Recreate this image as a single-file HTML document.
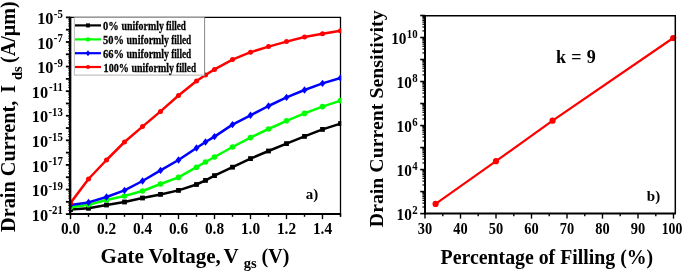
<!DOCTYPE html>
<html><head><meta charset="utf-8"><title>figure</title>
<style>html,body{margin:0;padding:0;background:#fff}body{width:685px;height:273px;overflow:hidden}</style></head>
<body>
<svg width="685" height="273" viewBox="0 0 685 273" style="display:block">
<rect width="685" height="273" fill="#fff"/>
<clipPath id="cl"><rect x="70.5" y="17.4" width="270.75" height="196.7"/></clipPath>
<line x1="70.5" x2="341.1" y1="17.4" y2="17.4" stroke="#000" stroke-width="1.3"/>
<line x1="340.5" x2="340.5" y1="17.4" y2="216.6" stroke="#000" stroke-width="1.3"/>
<g clip-path="url(#cl)">
<polyline points="70.5,209.6 88.5,208.3 106.5,205.0 124.5,202.0 142.5,198.0 160.5,194.4 178.5,190.4 196.5,184.5 205.5,180.4 214.5,175.6 232.5,167.2 250.5,158.6 268.5,151.0 286.5,143.6 304.5,136.4 322.5,129.4 340.5,123.6" fill="none" stroke="#000" stroke-width="2.5" stroke-linejoin="round"/>
<rect x="68.1" y="207.2" width="4.8" height="4.8" fill="#000"/>
<rect x="86.1" y="205.9" width="4.8" height="4.8" fill="#000"/>
<rect x="104.1" y="202.6" width="4.8" height="4.8" fill="#000"/>
<rect x="122.1" y="199.6" width="4.8" height="4.8" fill="#000"/>
<rect x="140.1" y="195.6" width="4.8" height="4.8" fill="#000"/>
<rect x="158.1" y="192.0" width="4.8" height="4.8" fill="#000"/>
<rect x="176.1" y="188.0" width="4.8" height="4.8" fill="#000"/>
<rect x="194.1" y="182.1" width="4.8" height="4.8" fill="#000"/>
<rect x="203.1" y="178.0" width="4.8" height="4.8" fill="#000"/>
<rect x="212.1" y="173.2" width="4.8" height="4.8" fill="#000"/>
<rect x="230.1" y="164.8" width="4.8" height="4.8" fill="#000"/>
<rect x="248.1" y="156.2" width="4.8" height="4.8" fill="#000"/>
<rect x="266.1" y="148.6" width="4.8" height="4.8" fill="#000"/>
<rect x="284.1" y="141.2" width="4.8" height="4.8" fill="#000"/>
<rect x="302.1" y="134.0" width="4.8" height="4.8" fill="#000"/>
<rect x="320.1" y="127.0" width="4.8" height="4.8" fill="#000"/>
<rect x="338.1" y="121.2" width="4.8" height="4.8" fill="#000"/>
<polyline points="70.5,207.3 88.5,204.7 106.5,200.0 124.5,196.0 142.5,191.0 160.5,184.0 178.5,177.4 196.5,167.2 205.5,162.0 214.5,157.0 232.5,147.0 250.5,137.6 268.5,129.0 286.5,120.8 304.5,113.4 322.5,106.6 340.5,100.6" fill="none" stroke="#00ff00" stroke-width="2.5" stroke-linejoin="round"/>
<circle cx="70.5" cy="207.3" r="2.8" fill="#00ff00"/>
<circle cx="88.5" cy="204.7" r="2.8" fill="#00ff00"/>
<circle cx="106.5" cy="200.0" r="2.8" fill="#00ff00"/>
<circle cx="124.5" cy="196.0" r="2.8" fill="#00ff00"/>
<circle cx="142.5" cy="191.0" r="2.8" fill="#00ff00"/>
<circle cx="160.5" cy="184.0" r="2.8" fill="#00ff00"/>
<circle cx="178.5" cy="177.4" r="2.8" fill="#00ff00"/>
<circle cx="196.5" cy="167.2" r="2.8" fill="#00ff00"/>
<circle cx="205.5" cy="162.0" r="2.8" fill="#00ff00"/>
<circle cx="214.5" cy="157.0" r="2.8" fill="#00ff00"/>
<circle cx="232.5" cy="147.0" r="2.8" fill="#00ff00"/>
<circle cx="250.5" cy="137.6" r="2.8" fill="#00ff00"/>
<circle cx="268.5" cy="129.0" r="2.8" fill="#00ff00"/>
<circle cx="286.5" cy="120.8" r="2.8" fill="#00ff00"/>
<circle cx="304.5" cy="113.4" r="2.8" fill="#00ff00"/>
<circle cx="322.5" cy="106.6" r="2.8" fill="#00ff00"/>
<circle cx="340.5" cy="100.6" r="2.8" fill="#00ff00"/>
<polyline points="70.5,205.0 88.5,202.4 106.5,197.0 124.5,190.4 142.5,181.0 160.5,170.4 178.5,160.0 196.5,148.0 205.5,142.0 214.5,136.6 232.5,124.6 250.5,115.3 268.5,106.0 286.5,97.4 304.5,90.0 322.5,83.4 340.5,78.0" fill="none" stroke="#0000ff" stroke-width="2.5" stroke-linejoin="round"/>
<polygon points="67.6,205.0 70.5,201.3 73.4,205.0 70.5,208.7" fill="#0000ff"/>
<polygon points="85.6,202.4 88.5,198.7 91.4,202.4 88.5,206.1" fill="#0000ff"/>
<polygon points="103.6,197.0 106.5,193.3 109.4,197.0 106.5,200.7" fill="#0000ff"/>
<polygon points="121.6,190.4 124.5,186.7 127.4,190.4 124.5,194.1" fill="#0000ff"/>
<polygon points="139.6,181.0 142.5,177.3 145.4,181.0 142.5,184.7" fill="#0000ff"/>
<polygon points="157.6,170.4 160.5,166.7 163.4,170.4 160.5,174.1" fill="#0000ff"/>
<polygon points="175.6,160.0 178.5,156.3 181.4,160.0 178.5,163.7" fill="#0000ff"/>
<polygon points="193.6,148.0 196.5,144.3 199.4,148.0 196.5,151.7" fill="#0000ff"/>
<polygon points="202.6,142.0 205.5,138.3 208.4,142.0 205.5,145.7" fill="#0000ff"/>
<polygon points="211.6,136.6 214.5,132.9 217.4,136.6 214.5,140.3" fill="#0000ff"/>
<polygon points="229.6,124.6 232.5,120.9 235.4,124.6 232.5,128.3" fill="#0000ff"/>
<polygon points="247.6,115.3 250.5,111.6 253.4,115.3 250.5,119.0" fill="#0000ff"/>
<polygon points="265.6,106.0 268.5,102.3 271.4,106.0 268.5,109.7" fill="#0000ff"/>
<polygon points="283.6,97.4 286.5,93.7 289.4,97.4 286.5,101.1" fill="#0000ff"/>
<polygon points="301.6,90.0 304.5,86.3 307.4,90.0 304.5,93.7" fill="#0000ff"/>
<polygon points="319.6,83.4 322.5,79.7 325.4,83.4 322.5,87.1" fill="#0000ff"/>
<polygon points="337.6,78.0 340.5,74.3 343.4,78.0 340.5,81.7" fill="#0000ff"/>
<polyline points="70.5,203.0 88.5,179.0 106.5,160.0 124.5,142.0 142.5,126.6 160.5,111.4 178.5,95.5 196.5,81.0 205.5,75.0 214.5,69.4 232.5,59.6 250.5,52.2 268.5,46.6 286.5,41.6 304.5,37.0 322.5,33.8 340.5,30.8" fill="none" stroke="#ff0000" stroke-width="2.5" stroke-linejoin="round"/>
<circle cx="70.5" cy="203.0" r="2.5" fill="#ff0000"/>
<circle cx="88.5" cy="179.0" r="2.5" fill="#ff0000"/>
<circle cx="106.5" cy="160.0" r="2.5" fill="#ff0000"/>
<circle cx="124.5" cy="142.0" r="2.5" fill="#ff0000"/>
<circle cx="142.5" cy="126.6" r="2.5" fill="#ff0000"/>
<circle cx="160.5" cy="111.4" r="2.5" fill="#ff0000"/>
<circle cx="178.5" cy="95.5" r="2.5" fill="#ff0000"/>
<circle cx="196.5" cy="81.0" r="2.5" fill="#ff0000"/>
<circle cx="205.5" cy="75.0" r="2.5" fill="#ff0000"/>
<circle cx="214.5" cy="69.4" r="2.5" fill="#ff0000"/>
<circle cx="232.5" cy="59.6" r="2.5" fill="#ff0000"/>
<circle cx="250.5" cy="52.2" r="2.5" fill="#ff0000"/>
<circle cx="268.5" cy="46.6" r="2.5" fill="#ff0000"/>
<circle cx="286.5" cy="41.6" r="2.5" fill="#ff0000"/>
<circle cx="304.5" cy="37.0" r="2.5" fill="#ff0000"/>
<circle cx="322.5" cy="33.8" r="2.5" fill="#ff0000"/>
<circle cx="340.5" cy="30.8" r="2.5" fill="#ff0000"/>
</g>
<rect x="74.4" y="17.4" width="130.2" height="57.699999999999996" fill="#fff"/>
<path d="M74.4 17.4 V75.1 H204.6" fill="none" stroke="#c4c4c4" stroke-width="1.1"/>
<line x1="204.6" x2="204.6" y1="17.4" y2="75.6" stroke="#7a7a7a" stroke-width="0.9"/>
<line x1="75" x2="101" y1="25.4" y2="25.4" stroke="#000" stroke-width="2.2"/>
<rect x="86.0" y="23.4" width="4" height="4" fill="#000"/>
<text x="103.0" y="29.9" font-size="13.5" textLength="15.7" lengthAdjust="spacingAndGlyphs" stroke="#000" stroke-width="0.3" font-family="Liberation Serif, serif" font-weight="bold">0%</text>
<text x="121.4" y="29.9" font-size="13.5" textLength="42.5" lengthAdjust="spacingAndGlyphs" stroke="#000" stroke-width="0.3" font-family="Liberation Serif, serif" font-weight="bold">uniformly</text>
<text x="166.0" y="29.9" font-size="13.5" textLength="20.0" lengthAdjust="spacingAndGlyphs" stroke="#000" stroke-width="0.3" font-family="Liberation Serif, serif" font-weight="bold">filled</text>
<line x1="75" x2="101" y1="39.4" y2="39.4" stroke="#00ff00" stroke-width="2.2"/>
<circle cx="88.0" cy="39.4" r="2.2" fill="#00ff00"/>
<text x="103.0" y="43.9" font-size="13.5" textLength="20.9" lengthAdjust="spacingAndGlyphs" stroke="#000" stroke-width="0.3" font-family="Liberation Serif, serif" font-weight="bold">50%</text>
<text x="126.6" y="43.9" font-size="13.5" textLength="42.5" lengthAdjust="spacingAndGlyphs" stroke="#000" stroke-width="0.3" font-family="Liberation Serif, serif" font-weight="bold">uniformly</text>
<text x="171.2" y="43.9" font-size="13.5" textLength="20.0" lengthAdjust="spacingAndGlyphs" stroke="#000" stroke-width="0.3" font-family="Liberation Serif, serif" font-weight="bold">filled</text>
<line x1="75" x2="101" y1="53.2" y2="53.2" stroke="#0000ff" stroke-width="2.2"/>
<polygon points="85.8,53.2 88.0,50.2 90.2,53.2 88.0,56.2" fill="#0000ff"/>
<text x="103.0" y="57.7" font-size="13.5" textLength="20.9" lengthAdjust="spacingAndGlyphs" stroke="#000" stroke-width="0.3" font-family="Liberation Serif, serif" font-weight="bold">66%</text>
<text x="126.6" y="57.7" font-size="13.5" textLength="42.5" lengthAdjust="spacingAndGlyphs" stroke="#000" stroke-width="0.3" font-family="Liberation Serif, serif" font-weight="bold">uniformly</text>
<text x="171.2" y="57.7" font-size="13.5" textLength="20.0" lengthAdjust="spacingAndGlyphs" stroke="#000" stroke-width="0.3" font-family="Liberation Serif, serif" font-weight="bold">filled</text>
<line x1="75" x2="101" y1="67" y2="67" stroke="#ff0000" stroke-width="2.2"/>
<circle cx="88.0" cy="67.0" r="2" fill="#ff0000"/>
<text x="103.6" y="71.5" font-size="13.5" textLength="25.2" lengthAdjust="spacingAndGlyphs" stroke="#000" stroke-width="0.3" font-family="Liberation Serif, serif" font-weight="bold">100%</text>
<text x="131.5" y="71.5" font-size="13.5" textLength="42.5" lengthAdjust="spacingAndGlyphs" stroke="#000" stroke-width="0.3" font-family="Liberation Serif, serif" font-weight="bold">uniformly</text>
<text x="176.1" y="71.5" font-size="13.5" textLength="20.0" lengthAdjust="spacingAndGlyphs" stroke="#000" stroke-width="0.3" font-family="Liberation Serif, serif" font-weight="bold">filled</text>
<line x1="70.15" x2="70.15" y1="16.7" y2="215.1" stroke="#000" stroke-width="2.4"/>
<line x1="69.5" x2="341.1" y1="214.1" y2="214.1" stroke="#000" stroke-width="2"/>
<line x1="65.9" x2="70.0" y1="17.40" y2="17.40" stroke="#000" stroke-width="1.8"/>
<text transform="translate(62.8,17.6) scale(0.9,1)" text-anchor="end" font-size="12" font-family="Liberation Serif, serif" font-weight="bold">-5</text>
<text transform="translate(53.5,24.0) scale(0.96,1)" text-anchor="end" font-size="17" font-family="Liberation Serif, serif" font-weight="bold">10</text>
<line x1="68.1" x2="70.0" y1="25.99" y2="25.99" stroke="#000" stroke-width="0.8"/>
<line x1="68.1" x2="70.0" y1="23.83" y2="23.83" stroke="#000" stroke-width="0.8"/>
<line x1="68.1" x2="70.0" y1="21.10" y2="21.10" stroke="#000" stroke-width="0.8"/>
<line x1="68.1" x2="70.0" y1="19.30" y2="19.30" stroke="#000" stroke-width="0.8"/>
<line x1="65.9" x2="70.0" y1="29.69" y2="29.69" stroke="#000" stroke-width="1.8"/>
<line x1="68.1" x2="70.0" y1="38.29" y2="38.29" stroke="#000" stroke-width="0.8"/>
<line x1="68.1" x2="70.0" y1="36.12" y2="36.12" stroke="#000" stroke-width="0.8"/>
<line x1="68.1" x2="70.0" y1="33.39" y2="33.39" stroke="#000" stroke-width="0.8"/>
<line x1="68.1" x2="70.0" y1="31.60" y2="31.60" stroke="#000" stroke-width="0.8"/>
<line x1="65.9" x2="70.0" y1="41.99" y2="41.99" stroke="#000" stroke-width="1.8"/>
<text transform="translate(62.8,42.2) scale(0.9,1)" text-anchor="end" font-size="12" font-family="Liberation Serif, serif" font-weight="bold">-7</text>
<text transform="translate(53.5,48.6) scale(0.96,1)" text-anchor="end" font-size="17" font-family="Liberation Serif, serif" font-weight="bold">10</text>
<line x1="68.1" x2="70.0" y1="50.58" y2="50.58" stroke="#000" stroke-width="0.8"/>
<line x1="68.1" x2="70.0" y1="48.42" y2="48.42" stroke="#000" stroke-width="0.8"/>
<line x1="68.1" x2="70.0" y1="45.69" y2="45.69" stroke="#000" stroke-width="0.8"/>
<line x1="68.1" x2="70.0" y1="43.89" y2="43.89" stroke="#000" stroke-width="0.8"/>
<line x1="65.9" x2="70.0" y1="54.28" y2="54.28" stroke="#000" stroke-width="1.8"/>
<line x1="68.1" x2="70.0" y1="62.87" y2="62.87" stroke="#000" stroke-width="0.8"/>
<line x1="68.1" x2="70.0" y1="60.71" y2="60.71" stroke="#000" stroke-width="0.8"/>
<line x1="68.1" x2="70.0" y1="57.98" y2="57.98" stroke="#000" stroke-width="0.8"/>
<line x1="68.1" x2="70.0" y1="56.19" y2="56.19" stroke="#000" stroke-width="0.8"/>
<line x1="65.9" x2="70.0" y1="66.57" y2="66.57" stroke="#000" stroke-width="1.8"/>
<text transform="translate(62.8,66.8) scale(0.9,1)" text-anchor="end" font-size="12" font-family="Liberation Serif, serif" font-weight="bold">-9</text>
<text transform="translate(53.5,73.2) scale(0.96,1)" text-anchor="end" font-size="17" font-family="Liberation Serif, serif" font-weight="bold">10</text>
<line x1="68.1" x2="70.0" y1="75.17" y2="75.17" stroke="#000" stroke-width="0.8"/>
<line x1="68.1" x2="70.0" y1="73.00" y2="73.00" stroke="#000" stroke-width="0.8"/>
<line x1="68.1" x2="70.0" y1="70.28" y2="70.28" stroke="#000" stroke-width="0.8"/>
<line x1="68.1" x2="70.0" y1="68.48" y2="68.48" stroke="#000" stroke-width="0.8"/>
<line x1="65.9" x2="70.0" y1="78.87" y2="78.87" stroke="#000" stroke-width="1.8"/>
<line x1="68.1" x2="70.0" y1="87.46" y2="87.46" stroke="#000" stroke-width="0.8"/>
<line x1="68.1" x2="70.0" y1="85.30" y2="85.30" stroke="#000" stroke-width="0.8"/>
<line x1="68.1" x2="70.0" y1="82.57" y2="82.57" stroke="#000" stroke-width="0.8"/>
<line x1="68.1" x2="70.0" y1="80.77" y2="80.77" stroke="#000" stroke-width="0.8"/>
<line x1="65.9" x2="70.0" y1="91.16" y2="91.16" stroke="#000" stroke-width="1.8"/>
<text transform="translate(62.8,91.4) scale(0.9,1)" text-anchor="end" font-size="12" font-family="Liberation Serif, serif" font-weight="bold">-11</text>
<text transform="translate(48.1,97.8) scale(0.96,1)" text-anchor="end" font-size="17" font-family="Liberation Serif, serif" font-weight="bold">10</text>
<line x1="68.1" x2="70.0" y1="99.76" y2="99.76" stroke="#000" stroke-width="0.8"/>
<line x1="68.1" x2="70.0" y1="97.59" y2="97.59" stroke="#000" stroke-width="0.8"/>
<line x1="68.1" x2="70.0" y1="94.86" y2="94.86" stroke="#000" stroke-width="0.8"/>
<line x1="68.1" x2="70.0" y1="93.07" y2="93.07" stroke="#000" stroke-width="0.8"/>
<line x1="65.9" x2="70.0" y1="103.46" y2="103.46" stroke="#000" stroke-width="1.8"/>
<line x1="68.1" x2="70.0" y1="112.05" y2="112.05" stroke="#000" stroke-width="0.8"/>
<line x1="68.1" x2="70.0" y1="109.88" y2="109.88" stroke="#000" stroke-width="0.8"/>
<line x1="68.1" x2="70.0" y1="107.16" y2="107.16" stroke="#000" stroke-width="0.8"/>
<line x1="68.1" x2="70.0" y1="105.36" y2="105.36" stroke="#000" stroke-width="0.8"/>
<line x1="65.9" x2="70.0" y1="115.75" y2="115.75" stroke="#000" stroke-width="1.8"/>
<text transform="translate(62.8,115.9) scale(0.9,1)" text-anchor="end" font-size="12" font-family="Liberation Serif, serif" font-weight="bold">-13</text>
<text transform="translate(48.1,122.3) scale(0.96,1)" text-anchor="end" font-size="17" font-family="Liberation Serif, serif" font-weight="bold">10</text>
<line x1="68.1" x2="70.0" y1="124.34" y2="124.34" stroke="#000" stroke-width="0.8"/>
<line x1="68.1" x2="70.0" y1="122.18" y2="122.18" stroke="#000" stroke-width="0.8"/>
<line x1="68.1" x2="70.0" y1="119.45" y2="119.45" stroke="#000" stroke-width="0.8"/>
<line x1="68.1" x2="70.0" y1="117.65" y2="117.65" stroke="#000" stroke-width="0.8"/>
<line x1="65.9" x2="70.0" y1="128.04" y2="128.04" stroke="#000" stroke-width="1.8"/>
<line x1="68.1" x2="70.0" y1="136.64" y2="136.64" stroke="#000" stroke-width="0.8"/>
<line x1="68.1" x2="70.0" y1="134.47" y2="134.47" stroke="#000" stroke-width="0.8"/>
<line x1="68.1" x2="70.0" y1="131.74" y2="131.74" stroke="#000" stroke-width="0.8"/>
<line x1="68.1" x2="70.0" y1="129.95" y2="129.95" stroke="#000" stroke-width="0.8"/>
<line x1="65.9" x2="70.0" y1="140.34" y2="140.34" stroke="#000" stroke-width="1.8"/>
<text transform="translate(62.8,140.5) scale(0.9,1)" text-anchor="end" font-size="12" font-family="Liberation Serif, serif" font-weight="bold">-15</text>
<text transform="translate(48.1,146.9) scale(0.96,1)" text-anchor="end" font-size="17" font-family="Liberation Serif, serif" font-weight="bold">10</text>
<line x1="68.1" x2="70.0" y1="148.93" y2="148.93" stroke="#000" stroke-width="0.8"/>
<line x1="68.1" x2="70.0" y1="146.77" y2="146.77" stroke="#000" stroke-width="0.8"/>
<line x1="68.1" x2="70.0" y1="144.04" y2="144.04" stroke="#000" stroke-width="0.8"/>
<line x1="68.1" x2="70.0" y1="142.24" y2="142.24" stroke="#000" stroke-width="0.8"/>
<line x1="65.9" x2="70.0" y1="152.63" y2="152.63" stroke="#000" stroke-width="1.8"/>
<line x1="68.1" x2="70.0" y1="161.22" y2="161.22" stroke="#000" stroke-width="0.8"/>
<line x1="68.1" x2="70.0" y1="159.06" y2="159.06" stroke="#000" stroke-width="0.8"/>
<line x1="68.1" x2="70.0" y1="156.33" y2="156.33" stroke="#000" stroke-width="0.8"/>
<line x1="68.1" x2="70.0" y1="154.54" y2="154.54" stroke="#000" stroke-width="0.8"/>
<line x1="65.9" x2="70.0" y1="164.92" y2="164.92" stroke="#000" stroke-width="1.8"/>
<text transform="translate(62.8,165.1) scale(0.9,1)" text-anchor="end" font-size="12" font-family="Liberation Serif, serif" font-weight="bold">-17</text>
<text transform="translate(48.1,171.5) scale(0.96,1)" text-anchor="end" font-size="17" font-family="Liberation Serif, serif" font-weight="bold">10</text>
<line x1="68.1" x2="70.0" y1="173.52" y2="173.52" stroke="#000" stroke-width="0.8"/>
<line x1="68.1" x2="70.0" y1="171.35" y2="171.35" stroke="#000" stroke-width="0.8"/>
<line x1="68.1" x2="70.0" y1="168.63" y2="168.63" stroke="#000" stroke-width="0.8"/>
<line x1="68.1" x2="70.0" y1="166.83" y2="166.83" stroke="#000" stroke-width="0.8"/>
<line x1="65.9" x2="70.0" y1="177.22" y2="177.22" stroke="#000" stroke-width="1.8"/>
<line x1="68.1" x2="70.0" y1="185.81" y2="185.81" stroke="#000" stroke-width="0.8"/>
<line x1="68.1" x2="70.0" y1="183.65" y2="183.65" stroke="#000" stroke-width="0.8"/>
<line x1="68.1" x2="70.0" y1="180.92" y2="180.92" stroke="#000" stroke-width="0.8"/>
<line x1="68.1" x2="70.0" y1="179.12" y2="179.12" stroke="#000" stroke-width="0.8"/>
<line x1="65.9" x2="70.0" y1="189.51" y2="189.51" stroke="#000" stroke-width="1.8"/>
<text transform="translate(62.8,189.7) scale(0.9,1)" text-anchor="end" font-size="12" font-family="Liberation Serif, serif" font-weight="bold">-19</text>
<text transform="translate(48.1,196.1) scale(0.96,1)" text-anchor="end" font-size="17" font-family="Liberation Serif, serif" font-weight="bold">10</text>
<line x1="68.1" x2="70.0" y1="198.11" y2="198.11" stroke="#000" stroke-width="0.8"/>
<line x1="68.1" x2="70.0" y1="195.94" y2="195.94" stroke="#000" stroke-width="0.8"/>
<line x1="68.1" x2="70.0" y1="193.21" y2="193.21" stroke="#000" stroke-width="0.8"/>
<line x1="68.1" x2="70.0" y1="191.42" y2="191.42" stroke="#000" stroke-width="0.8"/>
<line x1="65.9" x2="70.0" y1="201.81" y2="201.81" stroke="#000" stroke-width="1.8"/>
<line x1="68.1" x2="70.0" y1="210.40" y2="210.40" stroke="#000" stroke-width="0.8"/>
<line x1="68.1" x2="70.0" y1="208.23" y2="208.23" stroke="#000" stroke-width="0.8"/>
<line x1="68.1" x2="70.0" y1="205.51" y2="205.51" stroke="#000" stroke-width="0.8"/>
<line x1="68.1" x2="70.0" y1="203.71" y2="203.71" stroke="#000" stroke-width="0.8"/>
<line x1="65.9" x2="70.0" y1="214.10" y2="214.10" stroke="#000" stroke-width="1.8"/>
<text transform="translate(62.8,214.3) scale(0.9,1)" text-anchor="end" font-size="12" font-family="Liberation Serif, serif" font-weight="bold">-21</text>
<text transform="translate(48.1,220.7) scale(0.96,1)" text-anchor="end" font-size="17" font-family="Liberation Serif, serif" font-weight="bold">10</text>
<line x1="70.5" x2="70.5" y1="214.1" y2="219.1" stroke="#000" stroke-width="1.4"/>
<text transform="translate(70.5,234) scale(0.96,1)" text-anchor="middle" font-size="16" font-family="Liberation Serif, serif" font-weight="bold">0.0</text>
<line x1="88.5" x2="88.5" y1="214.1" y2="216.79999999999998" stroke="#000" stroke-width="1.4"/>
<line x1="106.5" x2="106.5" y1="214.1" y2="219.1" stroke="#000" stroke-width="1.4"/>
<text transform="translate(106.5,234) scale(0.96,1)" text-anchor="middle" font-size="16" font-family="Liberation Serif, serif" font-weight="bold">0.2</text>
<line x1="124.5" x2="124.5" y1="214.1" y2="216.79999999999998" stroke="#000" stroke-width="1.4"/>
<line x1="142.5" x2="142.5" y1="214.1" y2="219.1" stroke="#000" stroke-width="1.4"/>
<text transform="translate(142.5,234) scale(0.96,1)" text-anchor="middle" font-size="16" font-family="Liberation Serif, serif" font-weight="bold">0.4</text>
<line x1="160.5" x2="160.5" y1="214.1" y2="216.79999999999998" stroke="#000" stroke-width="1.4"/>
<line x1="178.5" x2="178.5" y1="214.1" y2="219.1" stroke="#000" stroke-width="1.4"/>
<text transform="translate(178.5,234) scale(0.96,1)" text-anchor="middle" font-size="16" font-family="Liberation Serif, serif" font-weight="bold">0.6</text>
<line x1="196.5" x2="196.5" y1="214.1" y2="216.79999999999998" stroke="#000" stroke-width="1.4"/>
<line x1="214.5" x2="214.5" y1="214.1" y2="219.1" stroke="#000" stroke-width="1.4"/>
<text transform="translate(214.5,234) scale(0.96,1)" text-anchor="middle" font-size="16" font-family="Liberation Serif, serif" font-weight="bold">0.8</text>
<line x1="232.5" x2="232.5" y1="214.1" y2="216.79999999999998" stroke="#000" stroke-width="1.4"/>
<line x1="250.5" x2="250.5" y1="214.1" y2="219.1" stroke="#000" stroke-width="1.4"/>
<text transform="translate(250.5,234) scale(0.96,1)" text-anchor="middle" font-size="16" font-family="Liberation Serif, serif" font-weight="bold">1.0</text>
<line x1="268.5" x2="268.5" y1="214.1" y2="216.79999999999998" stroke="#000" stroke-width="1.4"/>
<line x1="286.5" x2="286.5" y1="214.1" y2="219.1" stroke="#000" stroke-width="1.4"/>
<text transform="translate(286.5,234) scale(0.96,1)" text-anchor="middle" font-size="16" font-family="Liberation Serif, serif" font-weight="bold">1.2</text>
<line x1="304.5" x2="304.5" y1="214.1" y2="216.79999999999998" stroke="#000" stroke-width="1.4"/>
<line x1="322.5" x2="322.5" y1="214.1" y2="219.1" stroke="#000" stroke-width="1.4"/>
<text transform="translate(322.5,234) scale(0.96,1)" text-anchor="middle" font-size="16" font-family="Liberation Serif, serif" font-weight="bold">1.4</text>
<line x1="340.5" x2="340.5" y1="214.1" y2="216.79999999999998" stroke="#000" stroke-width="1.4"/>
<text x="312" y="198.5" text-anchor="middle" font-size="15" font-family="Liberation Serif, serif" font-weight="bold">a)</text>
<text x="100.6" y="262.6" font-size="21" font-family="Liberation Serif, serif" font-weight="bold">Gate Voltage,<tspan dx="-2"> V </tspan><tspan font-size="14.5" dy="5.5">gs</tspan><tspan dy="-5.5" font-size="20"> (V)</tspan></text>
<text transform="translate(15,232) rotate(-90)" font-size="20.3" font-family="Liberation Serif, serif" font-weight="bold">Drain Current,<tspan dx="2.5"> I </tspan><tspan font-size="14.5" dy="6.5">ds</tspan><tspan dy="-6.5" dx="-1.6" font-size="20"> (A/µm)</tspan></text>
<polyline points="435.6,203.9 496,161.2 552.6,120.7 673.2,38" fill="none" stroke="#ff0000" stroke-width="2.2"/>
<circle cx="435.6" cy="203.9" r="3.1" fill="#ff0000"/>
<circle cx="496.0" cy="161.2" r="3.1" fill="#ff0000"/>
<circle cx="552.6" cy="120.7" r="3.1" fill="#ff0000"/>
<circle cx="673.2" cy="38.0" r="3.1" fill="#ff0000"/>
<line x1="425.0" x2="425.0" y1="14.9" y2="214.6" stroke="#000" stroke-width="2"/>
<line x1="424.0" x2="675.9" y1="213.6" y2="213.6" stroke="#000" stroke-width="2"/>
<line x1="425.0" x2="676.0" y1="15.8" y2="15.8" stroke="#000" stroke-width="1.5"/>
<line x1="675.3" x2="675.3" y1="15.5" y2="213.6" stroke="#000" stroke-width="1.5"/>
<line x1="420.2" x2="425.0" y1="213.60" y2="213.60" stroke="#000" stroke-width="1.6"/>
<text transform="translate(417.6,213.8) scale(0.9,1)" text-anchor="end" font-size="12" font-family="Liberation Serif, serif" font-weight="bold">2</text>
<text transform="translate(411.9,220.2) scale(0.9,1)" text-anchor="end" font-size="17" font-family="Liberation Serif, serif" font-weight="bold">10</text>
<line x1="422.4" x2="425.0" y1="206.97" y2="206.97" stroke="#000" stroke-width="1.2"/>
<line x1="422.4" x2="425.0" y1="203.10" y2="203.10" stroke="#000" stroke-width="1.2"/>
<line x1="422.4" x2="425.0" y1="200.35" y2="200.35" stroke="#000" stroke-width="1.2"/>
<line x1="422.4" x2="425.0" y1="198.21" y2="198.21" stroke="#000" stroke-width="1.2"/>
<line x1="422.4" x2="425.0" y1="196.47" y2="196.47" stroke="#000" stroke-width="1.2"/>
<line x1="422.4" x2="425.0" y1="195.00" y2="195.00" stroke="#000" stroke-width="1.2"/>
<line x1="422.4" x2="425.0" y1="193.72" y2="193.72" stroke="#000" stroke-width="1.2"/>
<line x1="422.4" x2="425.0" y1="192.60" y2="192.60" stroke="#000" stroke-width="1.2"/>
<line x1="420.2" x2="425.0" y1="191.59" y2="191.59" stroke="#000" stroke-width="1.6"/>
<line x1="422.4" x2="425.0" y1="184.96" y2="184.96" stroke="#000" stroke-width="1.2"/>
<line x1="422.4" x2="425.0" y1="181.09" y2="181.09" stroke="#000" stroke-width="1.2"/>
<line x1="422.4" x2="425.0" y1="178.34" y2="178.34" stroke="#000" stroke-width="1.2"/>
<line x1="422.4" x2="425.0" y1="176.20" y2="176.20" stroke="#000" stroke-width="1.2"/>
<line x1="422.4" x2="425.0" y1="174.46" y2="174.46" stroke="#000" stroke-width="1.2"/>
<line x1="422.4" x2="425.0" y1="172.99" y2="172.99" stroke="#000" stroke-width="1.2"/>
<line x1="422.4" x2="425.0" y1="171.71" y2="171.71" stroke="#000" stroke-width="1.2"/>
<line x1="422.4" x2="425.0" y1="170.58" y2="170.58" stroke="#000" stroke-width="1.2"/>
<line x1="420.2" x2="425.0" y1="169.58" y2="169.58" stroke="#000" stroke-width="1.6"/>
<text transform="translate(417.6,169.8) scale(0.9,1)" text-anchor="end" font-size="12" font-family="Liberation Serif, serif" font-weight="bold">4</text>
<text transform="translate(411.9,176.2) scale(0.9,1)" text-anchor="end" font-size="17" font-family="Liberation Serif, serif" font-weight="bold">10</text>
<line x1="422.4" x2="425.0" y1="162.95" y2="162.95" stroke="#000" stroke-width="1.2"/>
<line x1="422.4" x2="425.0" y1="159.08" y2="159.08" stroke="#000" stroke-width="1.2"/>
<line x1="422.4" x2="425.0" y1="156.33" y2="156.33" stroke="#000" stroke-width="1.2"/>
<line x1="422.4" x2="425.0" y1="154.19" y2="154.19" stroke="#000" stroke-width="1.2"/>
<line x1="422.4" x2="425.0" y1="152.45" y2="152.45" stroke="#000" stroke-width="1.2"/>
<line x1="422.4" x2="425.0" y1="150.98" y2="150.98" stroke="#000" stroke-width="1.2"/>
<line x1="422.4" x2="425.0" y1="149.70" y2="149.70" stroke="#000" stroke-width="1.2"/>
<line x1="422.4" x2="425.0" y1="148.57" y2="148.57" stroke="#000" stroke-width="1.2"/>
<line x1="420.2" x2="425.0" y1="147.57" y2="147.57" stroke="#000" stroke-width="1.6"/>
<line x1="422.4" x2="425.0" y1="140.94" y2="140.94" stroke="#000" stroke-width="1.2"/>
<line x1="422.4" x2="425.0" y1="137.06" y2="137.06" stroke="#000" stroke-width="1.2"/>
<line x1="422.4" x2="425.0" y1="134.31" y2="134.31" stroke="#000" stroke-width="1.2"/>
<line x1="422.4" x2="425.0" y1="132.18" y2="132.18" stroke="#000" stroke-width="1.2"/>
<line x1="422.4" x2="425.0" y1="130.44" y2="130.44" stroke="#000" stroke-width="1.2"/>
<line x1="422.4" x2="425.0" y1="128.97" y2="128.97" stroke="#000" stroke-width="1.2"/>
<line x1="422.4" x2="425.0" y1="127.69" y2="127.69" stroke="#000" stroke-width="1.2"/>
<line x1="422.4" x2="425.0" y1="126.56" y2="126.56" stroke="#000" stroke-width="1.2"/>
<line x1="420.2" x2="425.0" y1="125.56" y2="125.56" stroke="#000" stroke-width="1.6"/>
<text transform="translate(417.6,125.8) scale(0.9,1)" text-anchor="end" font-size="12" font-family="Liberation Serif, serif" font-weight="bold">6</text>
<text transform="translate(411.9,132.2) scale(0.9,1)" text-anchor="end" font-size="17" font-family="Liberation Serif, serif" font-weight="bold">10</text>
<line x1="422.4" x2="425.0" y1="118.93" y2="118.93" stroke="#000" stroke-width="1.2"/>
<line x1="422.4" x2="425.0" y1="115.05" y2="115.05" stroke="#000" stroke-width="1.2"/>
<line x1="422.4" x2="425.0" y1="112.30" y2="112.30" stroke="#000" stroke-width="1.2"/>
<line x1="422.4" x2="425.0" y1="110.17" y2="110.17" stroke="#000" stroke-width="1.2"/>
<line x1="422.4" x2="425.0" y1="108.43" y2="108.43" stroke="#000" stroke-width="1.2"/>
<line x1="422.4" x2="425.0" y1="106.95" y2="106.95" stroke="#000" stroke-width="1.2"/>
<line x1="422.4" x2="425.0" y1="105.68" y2="105.68" stroke="#000" stroke-width="1.2"/>
<line x1="422.4" x2="425.0" y1="104.55" y2="104.55" stroke="#000" stroke-width="1.2"/>
<line x1="420.2" x2="425.0" y1="103.54" y2="103.54" stroke="#000" stroke-width="1.6"/>
<line x1="422.4" x2="425.0" y1="96.92" y2="96.92" stroke="#000" stroke-width="1.2"/>
<line x1="422.4" x2="425.0" y1="93.04" y2="93.04" stroke="#000" stroke-width="1.2"/>
<line x1="422.4" x2="425.0" y1="90.29" y2="90.29" stroke="#000" stroke-width="1.2"/>
<line x1="422.4" x2="425.0" y1="88.16" y2="88.16" stroke="#000" stroke-width="1.2"/>
<line x1="422.4" x2="425.0" y1="86.42" y2="86.42" stroke="#000" stroke-width="1.2"/>
<line x1="422.4" x2="425.0" y1="84.94" y2="84.94" stroke="#000" stroke-width="1.2"/>
<line x1="422.4" x2="425.0" y1="83.67" y2="83.67" stroke="#000" stroke-width="1.2"/>
<line x1="422.4" x2="425.0" y1="82.54" y2="82.54" stroke="#000" stroke-width="1.2"/>
<line x1="420.2" x2="425.0" y1="81.53" y2="81.53" stroke="#000" stroke-width="1.6"/>
<text transform="translate(417.6,81.7) scale(0.9,1)" text-anchor="end" font-size="12" font-family="Liberation Serif, serif" font-weight="bold">8</text>
<text transform="translate(411.9,88.1) scale(0.9,1)" text-anchor="end" font-size="17" font-family="Liberation Serif, serif" font-weight="bold">10</text>
<line x1="422.4" x2="425.0" y1="74.91" y2="74.91" stroke="#000" stroke-width="1.2"/>
<line x1="422.4" x2="425.0" y1="71.03" y2="71.03" stroke="#000" stroke-width="1.2"/>
<line x1="422.4" x2="425.0" y1="68.28" y2="68.28" stroke="#000" stroke-width="1.2"/>
<line x1="422.4" x2="425.0" y1="66.15" y2="66.15" stroke="#000" stroke-width="1.2"/>
<line x1="422.4" x2="425.0" y1="64.41" y2="64.41" stroke="#000" stroke-width="1.2"/>
<line x1="422.4" x2="425.0" y1="62.93" y2="62.93" stroke="#000" stroke-width="1.2"/>
<line x1="422.4" x2="425.0" y1="61.66" y2="61.66" stroke="#000" stroke-width="1.2"/>
<line x1="422.4" x2="425.0" y1="60.53" y2="60.53" stroke="#000" stroke-width="1.2"/>
<line x1="420.2" x2="425.0" y1="59.52" y2="59.52" stroke="#000" stroke-width="1.6"/>
<line x1="422.4" x2="425.0" y1="52.90" y2="52.90" stroke="#000" stroke-width="1.2"/>
<line x1="422.4" x2="425.0" y1="49.02" y2="49.02" stroke="#000" stroke-width="1.2"/>
<line x1="422.4" x2="425.0" y1="46.27" y2="46.27" stroke="#000" stroke-width="1.2"/>
<line x1="422.4" x2="425.0" y1="44.14" y2="44.14" stroke="#000" stroke-width="1.2"/>
<line x1="422.4" x2="425.0" y1="42.39" y2="42.39" stroke="#000" stroke-width="1.2"/>
<line x1="422.4" x2="425.0" y1="40.92" y2="40.92" stroke="#000" stroke-width="1.2"/>
<line x1="422.4" x2="425.0" y1="39.64" y2="39.64" stroke="#000" stroke-width="1.2"/>
<line x1="422.4" x2="425.0" y1="38.52" y2="38.52" stroke="#000" stroke-width="1.2"/>
<line x1="420.2" x2="425.0" y1="37.51" y2="37.51" stroke="#000" stroke-width="1.6"/>
<text transform="translate(417.6,37.7) scale(0.9,1)" text-anchor="end" font-size="12" font-family="Liberation Serif, serif" font-weight="bold">10</text>
<text transform="translate(406.5,44.1) scale(0.9,1)" text-anchor="end" font-size="17" font-family="Liberation Serif, serif" font-weight="bold">10</text>
<line x1="422.4" x2="425.0" y1="30.89" y2="30.89" stroke="#000" stroke-width="1.2"/>
<line x1="422.4" x2="425.0" y1="27.01" y2="27.01" stroke="#000" stroke-width="1.2"/>
<line x1="422.4" x2="425.0" y1="24.26" y2="24.26" stroke="#000" stroke-width="1.2"/>
<line x1="422.4" x2="425.0" y1="22.13" y2="22.13" stroke="#000" stroke-width="1.2"/>
<line x1="422.4" x2="425.0" y1="20.38" y2="20.38" stroke="#000" stroke-width="1.2"/>
<line x1="422.4" x2="425.0" y1="18.91" y2="18.91" stroke="#000" stroke-width="1.2"/>
<line x1="422.4" x2="425.0" y1="17.63" y2="17.63" stroke="#000" stroke-width="1.2"/>
<line x1="422.4" x2="425.0" y1="16.51" y2="16.51" stroke="#000" stroke-width="1.2"/>
<line x1="420.2" x2="425.0" y1="15.50" y2="15.50" stroke="#000" stroke-width="1.6"/>
<line x1="425.0" x2="425.0" y1="213.6" y2="218.6" stroke="#000" stroke-width="1.4"/>
<text transform="translate(425.0,234) scale(0.9,1)" text-anchor="middle" font-size="16" font-family="Liberation Serif, serif" font-weight="bold">30</text>
<line x1="442.8" x2="442.8" y1="213.6" y2="216.29999999999998" stroke="#000" stroke-width="1.4"/>
<line x1="460.5" x2="460.5" y1="213.6" y2="218.6" stroke="#000" stroke-width="1.4"/>
<text transform="translate(460.5,234) scale(0.9,1)" text-anchor="middle" font-size="16" font-family="Liberation Serif, serif" font-weight="bold">40</text>
<line x1="478.2" x2="478.2" y1="213.6" y2="216.29999999999998" stroke="#000" stroke-width="1.4"/>
<line x1="496.0" x2="496.0" y1="213.6" y2="218.6" stroke="#000" stroke-width="1.4"/>
<text transform="translate(496.0,234) scale(0.9,1)" text-anchor="middle" font-size="16" font-family="Liberation Serif, serif" font-weight="bold">50</text>
<line x1="513.8" x2="513.8" y1="213.6" y2="216.29999999999998" stroke="#000" stroke-width="1.4"/>
<line x1="531.5" x2="531.5" y1="213.6" y2="218.6" stroke="#000" stroke-width="1.4"/>
<text transform="translate(531.5,234) scale(0.9,1)" text-anchor="middle" font-size="16" font-family="Liberation Serif, serif" font-weight="bold">60</text>
<line x1="549.2" x2="549.2" y1="213.6" y2="216.29999999999998" stroke="#000" stroke-width="1.4"/>
<line x1="567.0" x2="567.0" y1="213.6" y2="218.6" stroke="#000" stroke-width="1.4"/>
<text transform="translate(567.0,234) scale(0.9,1)" text-anchor="middle" font-size="16" font-family="Liberation Serif, serif" font-weight="bold">70</text>
<line x1="584.8" x2="584.8" y1="213.6" y2="216.29999999999998" stroke="#000" stroke-width="1.4"/>
<line x1="602.5" x2="602.5" y1="213.6" y2="218.6" stroke="#000" stroke-width="1.4"/>
<text transform="translate(602.5,234) scale(0.9,1)" text-anchor="middle" font-size="16" font-family="Liberation Serif, serif" font-weight="bold">80</text>
<line x1="620.2" x2="620.2" y1="213.6" y2="216.29999999999998" stroke="#000" stroke-width="1.4"/>
<line x1="638.0" x2="638.0" y1="213.6" y2="218.6" stroke="#000" stroke-width="1.4"/>
<text transform="translate(638.0,234) scale(0.9,1)" text-anchor="middle" font-size="16" font-family="Liberation Serif, serif" font-weight="bold">90</text>
<line x1="655.8" x2="655.8" y1="213.6" y2="216.29999999999998" stroke="#000" stroke-width="1.4"/>
<line x1="673.5" x2="673.5" y1="213.6" y2="218.6" stroke="#000" stroke-width="1.4"/>
<text transform="translate(672.0,234) scale(0.86,1)" text-anchor="middle" font-size="16" font-family="Liberation Serif, serif" font-weight="bold">100</text>
<text x="653.5" y="201.4" text-anchor="middle" font-size="15" font-family="Liberation Serif, serif" font-weight="bold">b)</text>
<text x="556" y="63" font-size="18" word-spacing="0.7" font-family="Liberation Serif, serif" font-weight="bold">k = 9</text>
<text x="440.6" y="264.4" font-size="20" font-family="Liberation Serif, serif" font-weight="bold" textLength="212.6" lengthAdjust="spacingAndGlyphs">Percentage of Filling (%)</text>
<text transform="translate(383,227.2) rotate(-90)" font-size="19.85" font-family="Liberation Serif, serif" font-weight="bold">Drain Current Sensitivity</text>
</svg>
</body></html>
